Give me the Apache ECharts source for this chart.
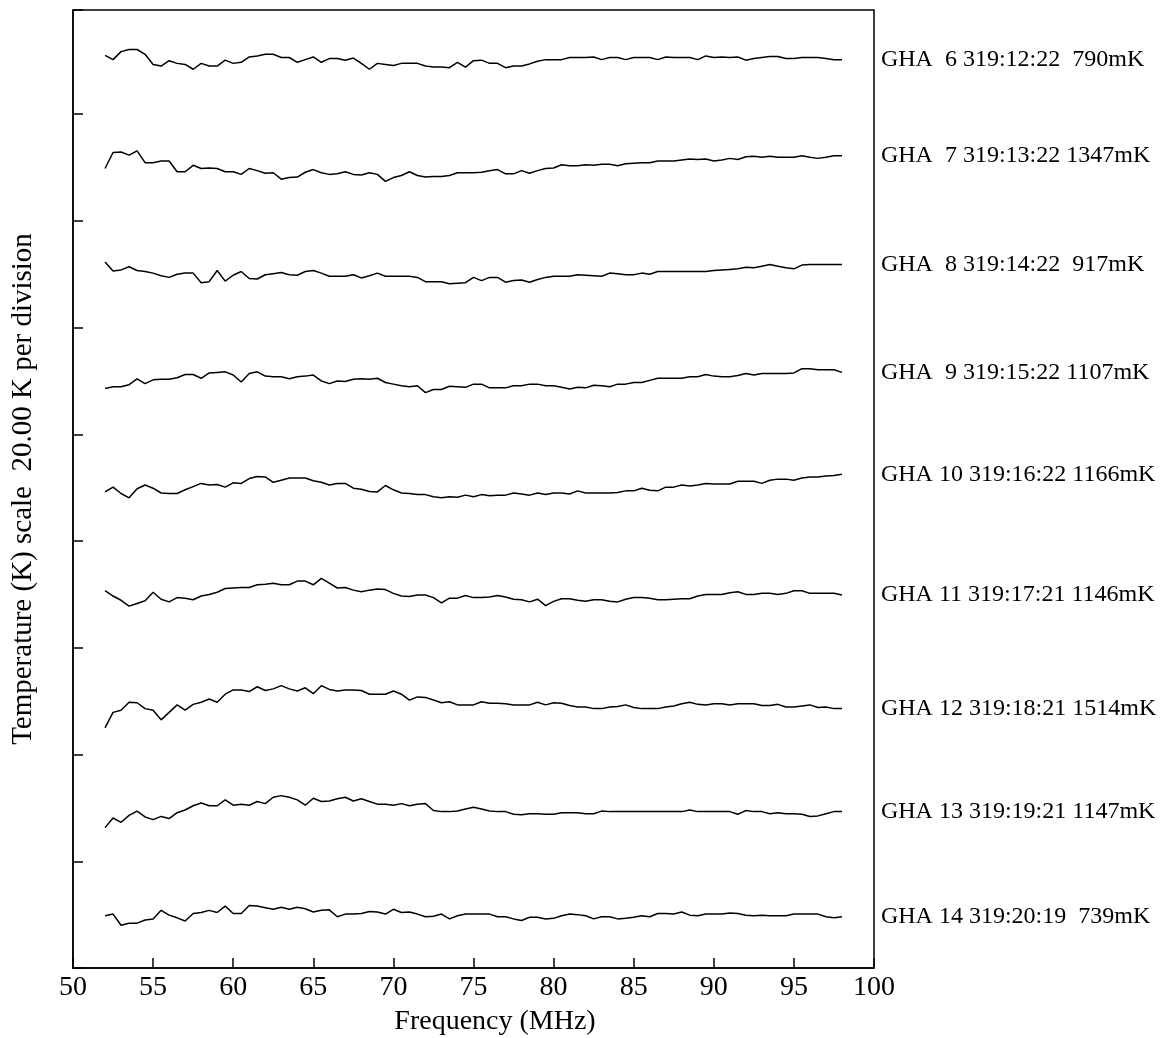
<!DOCTYPE html>
<html>
<head>
<meta charset="utf-8">
<title>GHA spectra</title>
<script src="https://cdn.jsdelivr.net/npm/echarts@6/dist/echarts.min.js"></script>
<style>
  html, body { margin: 0; padding: 0; background: #fff; }
  #chart { width: 1167px; height: 1038px; }
</style>
</head>
<body>
<div id="chart"></div>
<script>
// frequency grid of the spectra (MHz), 52 to 98 in 0.5 MHz steps
var freqs = [];
for (var i = 0; i < 93; i++) freqs.push(52 + i * 0.5);

// trace labels, top to bottom
var traceNames = [
  'GHA  6 319:12:22  790mK',
  'GHA  7 319:13:22 1347mK',
  'GHA  8 319:14:22  917mK',
  'GHA  9 319:15:22 1107mK',
  'GHA 10 319:16:22 1166mK',
  'GHA 11 319:17:21 1146mK',
  'GHA 12 319:18:21 1514mK',
  'GHA 13 319:19:21 1147mK',
  'GHA 14 319:20:19  739mK'
];

// vertical offset of each trace (K), 20 K per division
var traceOffsets = [170, 150, 130, 110, 90, 70, 50, 30, 10];

// residuals (K)
var gha6 = [1.0, 0.2, 1.7, 2.1, 2.1, 1.2, -0.7, -1.0, 0.0, -0.5,
  -0.7, -1.6, -0.5, -1.0, -1.0, 0.1, -0.5, -0.3, 0.7, 0.9,
  1.2, 1.2, 0.6, 0.6, -0.3, 0.2, 0.7, -0.3, 0.4, 0.4,
  0.1, 0.5, -0.5, -1.6, -0.5, -0.7, -0.9, -0.5, -0.5, -0.5,
  -1.0, -1.2, -1.2, -1.3, -0.3, -1.2, 0.0, 0.1, -0.5, -0.5,
  -1.3, -1.0, -1.0, -0.6, -0.1, 0.2, 0.2, 0.2, 0.6, 0.6,
  0.6, 0.7, 0.2, 0.6, 0.6, 0.2, 0.6, 0.6, 0.6, 0.2,
  0.7, 0.6, 0.6, 0.6, 0.2, 0.9, 0.6, 0.7, 0.6, 0.7,
  0.1, 0.4, 0.6, 0.8, 0.8, 0.4, 0.4, 0.6, 0.6, 0.6,
  0.4, 0.2, 0.2];
var gha7 = [-0.2, 2.8, 2.9, 2.3, 3.1, 0.9, 0.9, 1.2, 1.2, -0.8,
  -0.8, 0.4, -0.2, -0.1, -0.2, -0.8, -0.8, -1.3, -0.2, -0.6,
  -1.1, -1.0, -2.2, -1.9, -1.8, -0.9, -0.4, -1.0, -1.3, -1.2,
  -0.8, -1.3, -1.4, -1.0, -1.3, -2.6, -1.9, -1.5, -0.8, -1.5,
  -1.8, -1.7, -1.7, -1.5, -1.0, -1.0, -1.0, -0.9, -0.6, -0.4,
  -1.2, -1.2, -0.6, -1.1, -0.6, -0.2, -0.1, 0.5, 0.3, 0.3,
  0.5, 0.4, 0.6, 0.6, 0.3, 0.7, 0.8, 0.9, 0.9, 1.2,
  1.2, 1.2, 1.4, 1.6, 1.5, 1.6, 1.2, 1.4, 1.7, 1.5,
  2.0, 2.1, 1.9, 2.1, 1.9, 1.9, 1.9, 2.2, 1.9, 1.7,
  1.9, 2.2, 2.2];
var gha8 = [2.3, 0.6, 0.8, 1.4, 0.7, 0.5, 0.2, -0.3, -0.6, 0.0,
  0.2, 0.2, -1.6, -1.4, 0.7, -1.3, -0.2, 0.5, -0.8, -0.9,
  -0.1, 0.1, 0.3, -0.1, -0.2, 0.5, 0.7, 0.2, -0.4, -0.4,
  -0.4, -0.1, -0.7, -0.3, 0.2, -0.4, -0.4, -0.4, -0.4, -0.6,
  -1.4, -1.4, -1.4, -1.8, -1.7, -1.6, -0.6, -1.2, -0.6, -0.6,
  -1.5, -1.2, -1.1, -1.5, -1.0, -0.6, -0.4, -0.4, -0.4, -0.1,
  -0.2, -0.3, -0.4, 0.2, 0.1, -0.1, -0.1, 0.2, 0.0, 0.5,
  0.5, 0.5, 0.5, 0.5, 0.5, 0.5, 0.7, 0.8, 0.9, 1.0,
  1.3, 1.2, 1.5, 1.8, 1.5, 1.2, 1.0, 1.7, 1.8, 1.8,
  1.8, 1.8, 1.8];
var gha9 = [-1.4, -1.1, -1.1, -0.7, 0.4, -0.5, 0.2, 0.3, 0.3, 0.6,
  1.2, 1.2, 0.5, 1.5, 1.6, 1.7, 1.1, -0.2, 1.4, 1.7,
  0.9, 0.8, 0.8, 0.4, 0.8, 0.9, 1.1, 0.0, -0.5, 0.0,
  -0.1, 0.3, 0.4, 0.3, 0.5, -0.3, -0.6, -0.9, -1.1, -0.9,
  -2.2, -1.6, -1.6, -1.0, -1.1, -1.2, -0.6, -0.6, -1.3, -1.3,
  -1.3, -0.9, -0.9, -0.6, -0.6, -0.9, -0.9, -1.2, -1.5, -1.2,
  -1.3, -0.8, -0.9, -1.1, -0.6, -0.6, -0.3, -0.3, 0.1, 0.5,
  0.5, 0.5, 0.5, 0.8, 0.8, 1.2, 0.9, 0.8, 0.8, 1.0,
  1.4, 1.1, 1.4, 1.4, 1.4, 1.4, 1.5, 2.3, 2.3, 2.1,
  2.1, 2.1, 1.6];
var gha10 = [-0.8, 0.1, -1.1, -1.9, -0.2, 0.5, -0.1, -1.0, -1.1, -1.1,
  -0.4, 0.2, 0.8, 0.5, 0.6, 0.1, 0.9, 0.8, 1.7, 2.1,
  2.0, 1.0, 1.4, 1.8, 1.8, 1.8, 1.3, 1.0, 0.5, 0.8,
  0.8, -0.1, -0.3, -0.7, -0.8, 0.4, -0.4, -1.0, -1.1, -1.3,
  -1.3, -1.7, -1.9, -1.7, -1.8, -1.4, -1.7, -1.3, -1.5, -1.4,
  -1.4, -1.0, -1.2, -1.4, -1.0, -1.3, -1.0, -1.0, -1.2, -0.6,
  -1.0, -1.0, -1.0, -1.0, -0.9, -0.6, -0.6, -0.1, -0.5, -0.6,
  0.1, 0.1, 0.5, 0.3, 0.5, 0.8, 0.7, 0.7, 0.7, 1.2,
  1.2, 1.2, 0.8, 1.4, 1.6, 1.6, 1.4, 1.8, 2.0, 2.0,
  2.2, 2.3, 2.5];
var gha11 = [0.7, -0.3, -1.1, -2.2, -1.7, -1.2, 0.4, -0.9, -1.4, -0.6,
  -0.7, -1.0, -0.3, 0.0, 0.4, 1.1, 1.2, 1.3, 1.3, 1.8,
  1.9, 2.1, 1.8, 1.8, 2.5, 2.5, 1.8, 3.0, 2.1, 1.2,
  1.3, 0.8, 0.5, 0.8, 1.0, 0.9, 0.2, -0.3, -0.4, -0.1,
  -0.1, -0.6, -1.6, -0.7, -0.7, -0.2, -0.6, -0.6, -0.5, -0.2,
  -0.5, -0.9, -1.0, -1.4, -0.9, -2.1, -1.3, -0.8, -0.8, -1.1,
  -1.3, -1.0, -1.0, -1.3, -1.4, -0.9, -0.6, -0.6, -0.7, -1.0,
  -1.0, -0.9, -0.8, -0.8, -0.3, 0.0, 0.0, 0.0, 0.3, 0.5,
  0.0, 0.0, 0.2, 0.2, 0.0, 0.2, 0.7, 0.7, 0.2, 0.2,
  0.2, 0.2, -0.1];
var gha12 = [-5.0, -2.1, -1.7, -0.2, -0.3, -1.4, -1.7, -3.5, -2.1, -0.7,
  -1.7, -0.6, -0.2, 0.4, -0.2, 1.3, 2.1, 2.1, 1.8, 2.7,
  2.0, 2.3, 2.9, 2.3, 1.9, 2.5, 1.4, 2.9, 2.2, 1.9,
  2.1, 2.1, 2.0, 1.3, 1.3, 1.3, 1.9, 1.3, 0.2, 0.8,
  0.7, 0.2, -0.3, -0.1, -0.7, -0.7, -0.7, -0.1, -0.4, -0.4,
  -0.5, -0.7, -0.7, -0.7, -0.2, -0.7, -0.3, -0.4, -0.8, -1.1,
  -1.1, -1.4, -1.4, -1.1, -1.0, -0.7, -1.2, -1.4, -1.4, -1.4,
  -1.1, -0.9, -0.5, -0.2, -0.6, -0.7, -0.5, -0.5, -0.7, -0.5,
  -0.5, -0.5, -0.8, -0.8, -0.6, -1.1, -1.1, -0.9, -0.7, -1.2,
  -1.1, -1.4, -1.4];
var gha13 = [-3.7, -1.9, -2.7, -1.4, -0.6, -1.7, -2.2, -1.6, -2.0, -0.9,
  -0.4, 0.4, 0.9, 0.4, 0.4, 1.5, 0.5, 0.7, 0.5, 1.2,
  0.8, 2.0, 2.3, 2.0, 1.5, 0.5, 1.8, 1.2, 1.3, 1.7,
  2.0, 1.3, 1.7, 1.2, 0.7, 0.7, 0.5, 0.8, 0.4, 0.7,
  0.8, -0.5, -0.7, -0.7, -0.6, -0.2, 0.1, -0.2, -0.6, -0.7,
  -0.7, -1.2, -1.3, -1.1, -1.1, -1.2, -1.2, -0.9, -0.9, -0.9,
  -1.1, -1.1, -0.6, -0.7, -0.7, -0.7, -0.7, -0.7, -0.7, -0.7,
  -0.7, -0.7, -0.7, -0.4, -0.7, -0.7, -0.7, -0.7, -0.7, -1.2,
  -0.5, -0.7, -0.7, -1.1, -0.9, -1.1, -1.1, -1.2, -1.6, -1.5,
  -1.1, -0.7, -0.7];
var gha14 = [-0.2, 0.1, -2.0, -1.6, -1.6, -1.0, -0.8, 0.8, -0.1, -0.6,
  -1.2, 0.2, 0.4, 0.8, 0.4, 1.6, 0.2, 0.2, 1.7, 1.6,
  1.3, 1.0, 1.4, 1.0, 1.4, 1.1, 0.5, 0.8, 0.9, -0.4,
  0.1, 0.1, 0.2, 0.6, 0.5, 0.1, 1.0, 0.4, 0.5, 0.1,
  -0.4, -0.3, 0.1, -0.8, -0.2, 0.1, 0.1, 0.1, 0.1, -0.4,
  -0.4, -0.8, -1.1, -0.5, -0.5, -0.8, -0.7, -0.2, 0.1, 0.0,
  -0.2, -0.8, -0.4, -0.4, -0.8, -0.7, -0.5, -0.2, -0.4, 0.2,
  0.2, 0.1, 0.5, -0.1, -0.2, 0.1, 0.1, 0.1, 0.3, 0.2,
  -0.1, -0.2, -0.1, -0.2, -0.2, -0.2, 0.1, 0.1, 0.1, 0.1,
  -0.4, -0.6, -0.4];

var residuals = [gha6, gha7, gha8, gha9, gha10, gha11, gha12, gha13, gha14];

var serif = 'Liberation Serif';

var series = residuals.map(function (vals, idx) {
  return {
    name: traceNames[idx],
    type: 'line',
    symbol: 'none',
    silent: true,
    lineStyle: { color: '#000', width: 1.5 },
    data: vals.map(function (v, k) {
      return [freqs[k], traceOffsets[idx] + v];
    }),
    endLabel: {
      show: true,
      formatter: '{a}',
      distance: 39,
      color: '#000',
      fontFamily: serif,
      fontSize: 24
    }
  };
});

var myChart = echarts.init(document.getElementById('chart'));

var option = {
  animation: false,
  backgroundColor: '#fff',
  grid: {
    left: 73,
    right: 293,
    top: 10,
    bottom: 70,
    outerBoundsMode: 'none',
    show: true,
    borderColor: '#000',
    borderWidth: 1.5
  },
  xAxis: {
    type: 'value',
    min: 50,
    max: 100,
    interval: 5,
    name: 'Frequency (MHz)',
    nameLocation: 'middle',
    nameGap: 40,
    nameTextStyle: { color: '#000', fontFamily: serif, fontSize: 28, padding: [0, 0, 0, 43] },
    axisLine: { lineStyle: { color: '#000', width: 1.5 } },
    axisTick: { inside: true, length: 10, lineStyle: { color: '#000', width: 1.5 } },
    axisLabel: { color: '#000', fontFamily: serif, fontSize: 28, margin: 6 },
    splitLine: { show: false }
  },
  yAxis: {
    type: 'value',
    min: 0,
    max: 179.5,
    interval: 20,
    name: 'Temperature (K) scale  20.00 K per division',
    nameLocation: 'middle',
    nameGap: 35,
    nameTextStyle: { color: '#000', fontFamily: serif, fontSize: 29 },
    axisLine: { lineStyle: { color: '#000', width: 1.5 } },
    axisTick: { inside: true, length: 10, lineStyle: { color: '#000', width: 1.5 } },
    axisLabel: { show: false },
    splitLine: { show: false }
  },
  series: series
};

myChart.setOption(option);
</script>
</body>
</html>
